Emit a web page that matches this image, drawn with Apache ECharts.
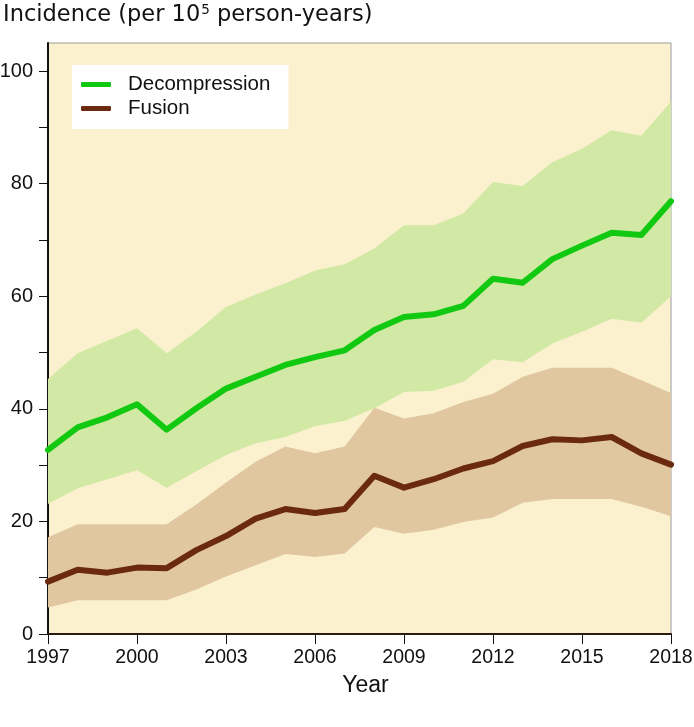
<!DOCTYPE html>
<html>
<head>
<meta charset="utf-8">
<script src="https://cdn.jsdelivr.net/npm/echarts@6/dist/echarts.min.js"></script>
<style>
  html, body { margin: 0; padding: 0; background: #ffffff; }
  #chart { width: 694px; height: 727px; }
</style>
</head>
<body>
<div id="chart"></div>
<script>
const years = ['1997','1998','1999','2000','2001','2002','2003','2004','2005','2006','2007','2008','2009','2010','2011','2012','2013','2014','2015','2016','2017','2018'];
const decompression = [32.7,36.7,38.5,40.8,36.3,40.1,43.6,45.7,47.8,49.2,50.4,54.0,56.3,56.8,58.3,63.1,62.4,66.6,69.0,71.3,70.9,76.9];
const decompressionLow = [23.1,25.9,27.5,29.1,26.0,28.9,31.8,33.9,35.0,36.9,37.9,40.1,43.0,43.2,44.8,48.8,48.3,51.6,53.7,56.0,55.3,60.0];
const decompressionHigh = [45.3,49.9,52.1,54.3,49.9,53.7,58.1,60.3,62.3,64.6,65.7,68.5,72.6,72.6,74.7,80.3,79.6,83.8,86.2,89.5,88.5,94.6];
const fusion = [9.3,11.4,10.9,11.8,11.7,14.9,17.4,20.5,22.2,21.5,22.2,28.1,26.0,27.5,29.4,30.7,33.4,34.6,34.4,35.0,32.1,30.1];
const fusionLow = [4.7,6.0,6.0,6.0,6.0,7.9,10.2,12.2,14.2,13.7,14.3,19.0,17.8,18.5,19.9,20.7,23.3,24.0,24.0,24.0,22.6,20.9];
const fusionHigh = [17.2,19.5,19.5,19.5,19.5,23.0,26.9,30.6,33.3,32.1,33.3,40.2,38.3,39.2,41.2,42.7,45.7,47.3,47.3,47.3,45.1,42.8];
const yTicks = [0,10,20,30,40,50,60,70,80,90,100];
const yLabels = [0,20,40,60,80,100];

const FONT = '"Liberation Sans", Arial, Helvetica, sans-serif';
const TITLE_FONT = '"DejaVu Sans", "Liberation Sans", Arial, sans-serif';
const decompBand = decompressionHigh.map((v, i) => +(v - decompressionLow[i]).toFixed(2));
const fusionBand = fusionHigh.map((v, i) => +(v - fusionLow[i]).toFixed(2));

const chart = echarts.init(document.getElementById('chart'), null, { renderer: 'canvas' });
chart.setOption({
  backgroundColor: '#ffffff',
  animation: false,
  title: {
    left: 3, top: 3, padding: 0,
    text: '{a|Incidence (per 10}{s|5}{a| person-years)}',
    textStyle: {
      fontWeight: 'normal',
      rich: {
        a: { fontFamily: TITLE_FONT, fontSize: 22.5, fontWeight: 'normal', color: '#111', lineHeight: 25 },
        s: { fontFamily: TITLE_FONT, fontSize: 13.5, fontWeight: 'normal', color: '#111', lineHeight: 13, padding: [0, 0, 10, 1] }
      }
    }
  },
  legend: {
    data: ['Decompression', 'Fusion'],
    orient: 'vertical',
    left: 72, top: 65,
    padding: [9, 18, 10, 9],
    itemGap: 3,
    itemWidth: 30, itemHeight: 5,
    icon: 'roundRect',
    backgroundColor: '#ffffff',
    borderWidth: 0,
    textStyle: { fontFamily: FONT, fontSize: 20.5, color: '#111', lineHeight: 20, padding: [0, 0, 0, 12] }
  },
  grid: {
    left: 48, right: 23, top: 43, bottom: 93,
    outerBoundsMode: 'none',
    containLabel: false,
    show: true,
    backgroundColor: '#FBF1CF',
    borderColor: '#9a9a9a',
    borderWidth: 1
  },
  xAxis: {
    type: 'category',
    data: years,
    boundaryGap: false,
    name: 'Year',
    nameLocation: 'middle',
    nameGap: 40,
    nameTextStyle: { fontFamily: FONT, fontSize: 23, color: '#111', padding: [0, 0, 0, 12] },
    axisLine: { lineStyle: { color: '#2a1a10', width: 2 } },
    axisTick: { show: true, interval: 2, length: 10, lineStyle: { color: '#111', width: 1 } },
    axisLabel: { interval: 2, margin: 14, fontFamily: FONT, fontSize: 19.5, color: '#111' },
    splitLine: { show: false }
  },
  yAxis: {
    type: 'value',
    min: 0, max: 105,
    interval: 10,
    axisLine: { show: true, lineStyle: { color: '#111', width: 2 } },
    axisTick: { show: true, length: 9, customValues: yTicks, lineStyle: { color: '#111', width: 1 } },
    axisLabel: { margin: 15, fontFamily: FONT, fontSize: 20, color: '#111', customValues: yLabels },
    splitLine: { show: false }
  },
  series: [
    { name: 'dLow', type: 'line', stack: 'd', data: decompressionLow, symbol: 'none', silent: true,
      lineStyle: { width: 0, opacity: 0 }, z: 1 },
    { name: 'dBand', type: 'line', stack: 'd', data: decompBand, symbol: 'none', silent: true,
      lineStyle: { width: 0, opacity: 0 }, areaStyle: { color: '#D1E9A4', opacity: 1 }, z: 1 },
    { name: 'fLow', type: 'line', stack: 'f', data: fusionLow, symbol: 'none', silent: true,
      lineStyle: { width: 0, opacity: 0 }, z: 2 },
    { name: 'fBand', type: 'line', stack: 'f', data: fusionBand, symbol: 'none', silent: true,
      lineStyle: { width: 0, opacity: 0 }, areaStyle: { color: '#E0C7A0', opacity: 1 }, z: 2 },
    { name: 'Decompression', type: 'line', data: decompression, symbol: 'none',
      itemStyle: { color: '#12C912' },
      lineStyle: { color: '#12C912', width: 6, join: 'round', cap: 'round' }, z: 5 },
    { name: 'Fusion', type: 'line', data: fusion, symbol: 'none',
      itemStyle: { color: '#6B2A10' },
      lineStyle: { color: '#6B2A10', width: 6, join: 'round', cap: 'round' }, z: 5 }
  ]
});
</script>
</body>
</html>
